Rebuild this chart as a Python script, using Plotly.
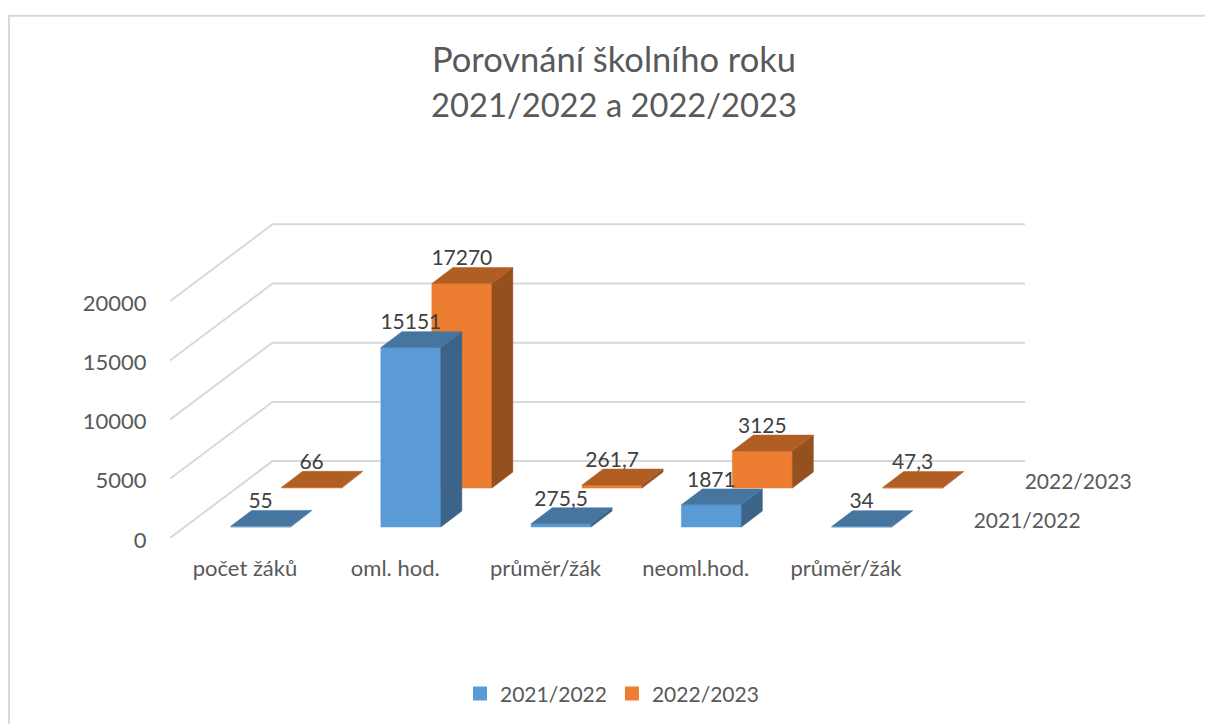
import plotly.graph_objects as go

categories = ["počet žáků", "oml. hod.", "průměr/žák", "neoml.hod.", "průměr/žák"]
series_names = ["2021/2022", "2022/2023"]
values_2021 = [55, 15151, 275.5, 1871, 34]
values_2022 = [66, 17270, 261.7, 3125, 47.3]
labels_2021 = ["55", "15151", "275,5", "1871", "34"]
labels_2022 = ["66", "17270", "261,7", "3125", "47,3"]
y_ticks = [0, 5000, 10000, 15000, 20000]

W, H = 1205, 724
L, B, T = 170, 538, 217.5
PX_CAT = 150.25      # pixels per category
PX_UNIT = 59.3 / 5000  # pixels per value unit
X0_PX = 245          # pixel of category 0


def dx(px):
    return px / PX_CAT


def dy(px):
    return px / PX_UNIT


FONT = "Lato"
TXT = "#595959"
LBL = "#404040"
GRID = "#d9d9d9"
FS = 21
FS_AXIS = 22

styles = [
    dict(front="#5b9bd5", top="#4675a0", side="#3b6488", x=dx(-14.4), base=dy(11)),
    dict(front="#ed7d31", top="#b15e25", side="#95501f", x=dx(36.6), base=dy(50)),
]
BAR_W = dx(60)
DX, DY = dx(21), dy(16)

fig = go.Figure()

# walls: gridlines on side and back wall
WALL_X, WALL_Y = dx(102.5), dy(77)
x_left = (L - X0_PX) / PX_CAT
x_right = (1025 - X0_PX) / PX_CAT
gx, gy = [], []
for t in y_ticks:
    gx += [x_left, x_left + WALL_X, x_right, None]
    gy += [t, t + WALL_Y, t + WALL_Y, None]
fig.add_trace(go.Scatter(x=gx, y=gy, mode="lines", line=dict(color=GRID, width=2),
                         showlegend=False, hoverinfo="skip"))


def faces(i, v, st):
    x0 = i + st["x"]
    x1 = x0 + BAR_W
    y0 = st["base"]
    y1 = y0 + v
    return (
        ("front", [x0, x1, x1, x0, x0], [y0, y0, y1, y1, y0]),
        ("side", [x1, x1 + DX, x1 + DX, x1, x1], [y0, y0 + DY, y1 + DY, y1, y0]),
        ("top", [x0, x1, x1 + DX, x0 + DX, x0], [y1, y1, y1 + DY, y1 + DY, y1]),
    )


all_values = [values_2021, values_2022]
# back series first, so the front row covers it
for s in (1, 0):
    st = styles[s]
    for i, v in enumerate(all_values[s]):
        for face, fx, fy in faces(i, v, st):
            fig.add_trace(go.Scatter(x=fx, y=fy, mode="lines", fill="toself",
                                     fillcolor=st[face],
                                     line=dict(color=st[face], width=0.5),
                                     showlegend=False, hoverinfo="skip"))

# data labels
for s, labels in enumerate([labels_2021, labels_2022]):
    st = styles[s]
    fig.add_trace(go.Scatter(
        x=[i + st["x"] + BAR_W / 2 for i in range(len(categories))],
        y=[st["base"] + v + dy(23.5) for v in all_values[s]],
        mode="text", text=labels, textposition="middle center",
        textfont=dict(family=FONT, size=FS, color=LBL),
        showlegend=False, hoverinfo="skip", cliponaxis=False))

# series-axis labels
fig.add_trace(go.Scatter(
    x=[len(categories) - 1 + st["x"] + BAR_W / 2 + dx(165.5) for st in styles],
    y=[st["base"] + dy(4.5) for st in styles],
    mode="text", text=series_names, textposition="middle center",
    textfont=dict(family=FONT, size=FS, color=TXT),
    showlegend=False, hoverinfo="skip", cliponaxis=False))

# legend entries
for s, name in enumerate(series_names):
    fig.add_trace(go.Scatter(x=[None], y=[None], mode="markers", name=name,
                             marker=dict(symbol="square", size=14, color=styles[s]["front"])))


def py(p):
    return (B - p) / (B - T)


def px(p):
    return (p - L) / (W - L)


fig.update_layout(
    width=W, height=H, autosize=False,
    margin=dict(l=L, r=0, t=T, b=H - B, pad=0),
    paper_bgcolor="white", plot_bgcolor="rgba(0,0,0,0)",
    font=dict(family=FONT, size=FS, color=TXT),
    title=dict(text="Porovnání školního roku<br><span style=\"font-size:32.7px\">2021/2022 a 2022/2023</span>",
               x=614 / W, xanchor="center", y=1 - 72 / H, yanchor="middle",
               font=dict(family=FONT, size=34.5, color=TXT)),
    xaxis=dict(range=[x_left, (W - X0_PX) / PX_CAT], tickmode="array",
               tickvals=list(range(len(categories))), ticktext=categories,
               showgrid=False, zeroline=False, showline=False,
               ticks="outside", ticklen=11, tickcolor="rgba(0,0,0,0)",
               tickfont=dict(family=FONT, size=FS_AXIS, color=TXT)),
    yaxis=dict(range=[0, (B - T) / PX_UNIT], tickmode="array", tickvals=y_ticks,
               ticktext=[str(t) for t in y_ticks],
               showgrid=False, zeroline=False, showline=False,
               ticks="outside", ticklen=18, tickcolor="rgba(0,0,0,0)",
               ticklabelshift=2,
               tickfont=dict(family=FONT, size=FS_AXIS, color=TXT)),
    legend=dict(orientation="h", x=px(612), xanchor="center", y=py(694), yanchor="middle",
                font=dict(family=FONT, size=FS, color=TXT), itemwidth=30,
                bgcolor="rgba(0,0,0,0)"),
    shapes=[dict(type="path", xref="paper", yref="paper",
                 path=f"M {px(9)} {py(H)} L {px(9)} {py(15)} L {px(W)} {py(15)}",
                 line=dict(color=GRID, width=2), layer="below")],
)

fig.write_html("out.html", post_script="document.body.style.margin='0';",
               config={"displayModeBar": False})
